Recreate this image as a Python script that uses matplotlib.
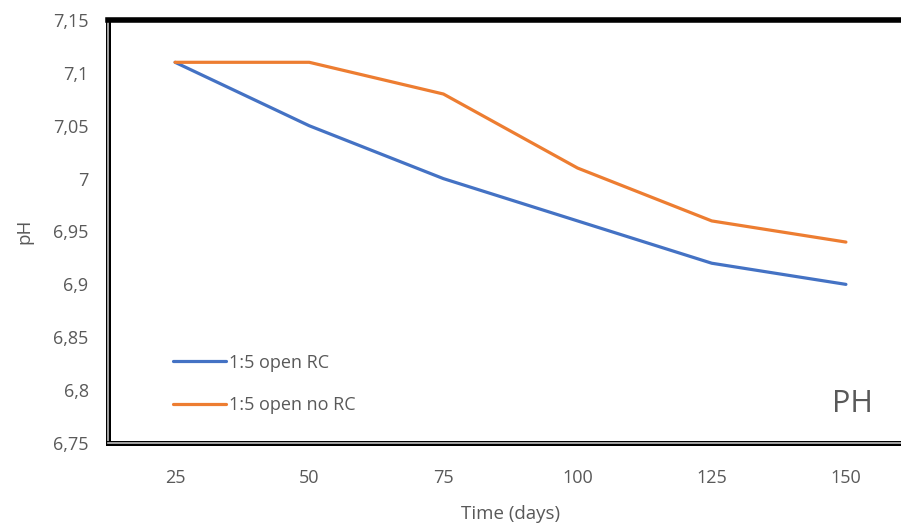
import numpy as np
import matplotlib.pyplot as plt
import matplotlib.patheffects as pe

# data
days = ['25', '50', '75', '100', '125', '150']
ph_rc = [7.11, 7.05, 7.00, 6.96, 6.92, 6.90]
ph_no_rc = [7.11, 7.11, 7.08, 7.01, 6.96, 6.94]
yticks = [6.75, 6.8, 6.85, 6.9, 6.95, 7.0, 7.05, 7.1, 7.15]

plt.rcParams['font.family'] = ['Open Sans', 'DejaVu Sans']
grey = '#595959'

fig = plt.figure(figsize=(9.01, 5.26), dpi=100)
ax = fig.add_axes([108/901, 83/526, 805/901, 423/526])

x = np.arange(len(days))
ax.plot(x, ph_rc, color='#4472C4', lw=2.3, label='1:5 open RC', solid_capstyle='round')
ax.plot(x, ph_no_rc, color='#ED7D31', lw=2.3, label='1:5 open no RC', solid_capstyle='round')

ax.set_xlim(-0.5, 5.5)
ax.set_ylim(6.75, 7.15)
ax.set_xticks(x)
ax.set_xticklabels(days)
ax.set_yticks(yticks)
ax.set_yticklabels([('%g' % v).replace('.', ',') for v in yticks])
ax.tick_params(length=0, labelsize=13, colors=grey)
ax.tick_params(axis='x', pad=19)
ax.tick_params(axis='y', pad=14)

# frame: thick on top, double line on left and bottom
ax.spines['top'].set_linewidth(4)
ax.spines['top'].set_color('black')
ax.spines['right'].set_visible(False)
for s in ['left', 'bottom']:
    ax.spines[s].set_color('#bfbfbf')
    ax.spines[s].set_linewidth(1.2)
    ax.spines[s].set_path_effects([pe.Stroke(linewidth=3.6, foreground='black'), pe.Normal()])

ax.set_xlabel('Time (days)', fontsize=13.5, color=grey, labelpad=13)
ax.set_ylabel('pH', fontsize=13.5, color=grey, labelpad=14)

leg = ax.legend(loc='lower left', bbox_to_anchor=(0.061, 0.03), frameon=False,
                fontsize=13, handlelength=2.9, handletextpad=0.2, labelspacing=1.35)
for t in leg.get_texts():
    t.set_color(grey)

ax.text(5.05, 6.787, 'PH', fontsize=22, color=grey, ha='center', va='center')

plt.savefig('out.png', dpi=100)
